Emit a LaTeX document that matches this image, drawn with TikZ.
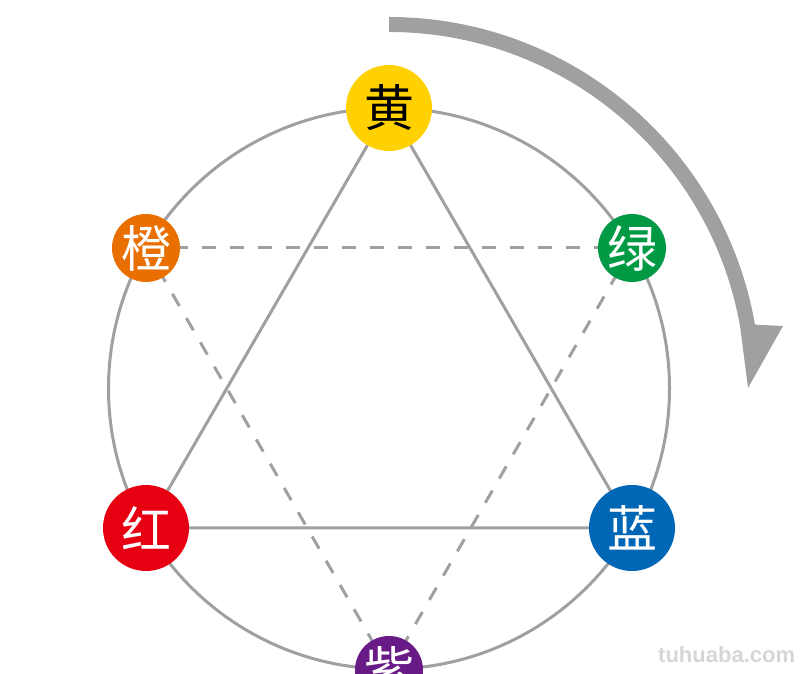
\documentclass[tikz,border=0pt]{standalone}
\usepackage{fontspec}
\newfontfamily\cjk{Noto Sans CJK SC}
\newfontfamily\wmfont{Liberation Sans}
\usetikzlibrary{backgrounds}
\definecolor{cyellow}{RGB}{255,209,0}
\definecolor{corange}{RGB}{233,112,0}
\definecolor{cgreen}{RGB}{0,153,68}
\definecolor{cblue}{RGB}{0,103,182}
\definecolor{cred}{RGB}{230,0,18}
\definecolor{cpurple}{RGB}{104,26,134}
\definecolor{lgray}{RGB}{160,160,160}
\definecolor{wgray}{RGB}{214,214,214}
\tikzset{
  colornode/.style={circle, fill=#1, inner sep=0pt, text=white,
    font=\cjk\fontsize{50}{50}\selectfont},
  big/.style={minimum size=86pt},
  small/.style={minimum size=68pt},
  solidline/.style={draw=lgray, line width=3pt},
  dashline/.style={draw=lgray, line width=3pt, dash pattern=on 14pt off 14pt},
}
\begin{document}
\begin{tikzpicture}[x=1pt,y=1pt]
\useasboundingbox (0,0) rectangle (800,674);
\coordinate (C) at (389,285.5);
% colour nodes
\node[colornode=cyellow, big, text=black] (Y) at (389,566) {黄};
\node[colornode=corange, small] (O) at (146,426) {橙};
\node[colornode=cgreen, small] (G) at (632,426) {绿};
\node[colornode=cred, big] (R) at (146,146) {红};
\node[colornode=cblue, big] (B) at (632,146) {蓝};
\node[colornode=cpurple, small] (P) at (389,4) {紫};
\begin{scope}[on background layer]
  \draw[solidline] (C) circle[radius=280.5];
  \draw[solidline] (Y.center) -- (R.center) -- (B.center) -- cycle;
  \draw[dashline] (O.center) -- (G.center);
  \draw[dashline] (G.center) -- (P.center);
  \draw[dashline] (P.center) -- (O.center);
\end{scope}
% rotation arrow
\fill[lgray] (389,657) arc[start angle=90, end angle=9.9, radius=371.5]
  -- (783,348) -- (748,286) -- (740.2,346.8)
  arc[start angle=9.9, end angle=90, radius=356.5] -- cycle;
% watermark
\node[anchor=base west, inner sep=0pt, text=wgray,
  font=\wmfont\bfseries\fontsize{22}{22}\selectfont] (wm) at (658,11) {tuhuaba.com};
\end{tikzpicture}
\end{document}
